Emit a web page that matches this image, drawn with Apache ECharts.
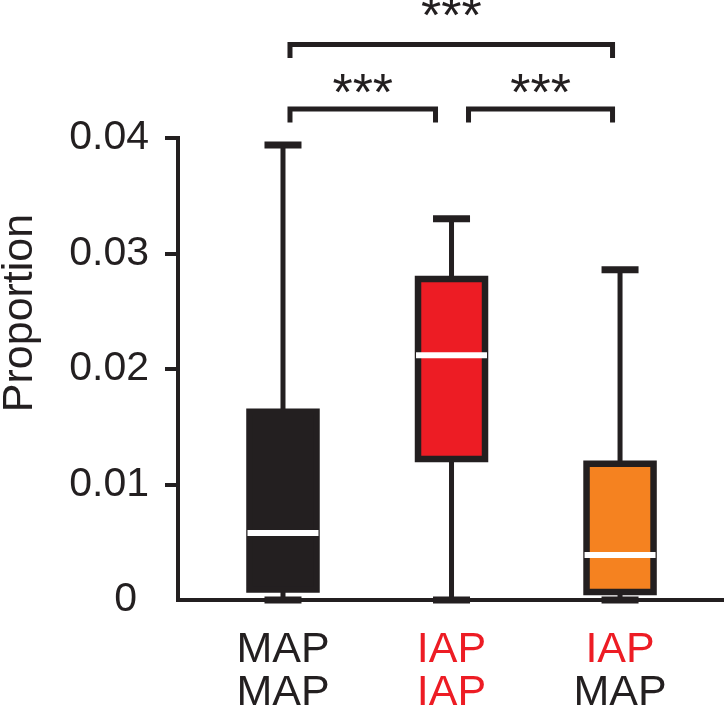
<!DOCTYPE html>
<html>
<head>
<meta charset="utf-8">
<script src="https://cdn.jsdelivr.net/npm/echarts@6/dist/echarts.min.js"></script>
<style>
  html, body { margin: 0; padding: 0; background: #fff; }
  #chart { width: 727px; height: 709px; }
</style>
</head>
<body>
<div id="chart"></div>
<script>
// two-line group labels under each box
const topRow = ["MAP", "IAP", "IAP"];
const bottomRow = ["MAP", "IAP", "MAP"];

// box plot stats per group
const whiskerLow = [0, 0, 0];
const q1 = [0.0009, 0.0122, 0.0007];
const median = [0.0058, 0.0212, 0.0039];
const q3 = [0.0163, 0.0278, 0.0118];
const whiskerHigh = [0.0394, 0.033, 0.0286];

const yTicks = [0, 0.01, 0.02, 0.03, 0.04];

// significance brackets (1-based group numbers)
const bracketFrom = [1, 2, 1];
const bracketTo = [2, 3, 3];
const bracketLevel = [0, 0, 1];
const bracketText = ["***", "***", "***"];

const ink = "#231f20";
const boxFill = [ink, "#ed1c24", "#f58220"];
const labelColor = { MAP: ink, IAP: "#ed1c24" };
const font = "Liberation Sans";

const chart = echarts.init(document.getElementById("chart"));

function renderBox(params, api) {
  const x = api.value(0);
  const pLow = api.coord([x, api.value(1)]);
  const pQ1 = api.coord([x, api.value(2)]);
  const pMed = api.coord([x, api.value(3)]);
  const pQ3 = api.coord([x, api.value(4)]);
  const pHigh = api.coord([x, api.value(5)]);
  const cx = pLow[0];
  const half = 33.5;
  const capHalf = 18.5;
  return {
    type: "group",
    children: [
      { type: "line", shape: { x1: cx, y1: pLow[1], x2: cx, y2: pHigh[1] },
        style: { stroke: ink, lineWidth: 5 } },
      { type: "line", shape: { x1: cx - capHalf, y1: pLow[1], x2: cx + capHalf, y2: pLow[1] },
        style: { stroke: ink, lineWidth: 7 } },
      { type: "line", shape: { x1: cx - capHalf, y1: pHigh[1], x2: cx + capHalf, y2: pHigh[1] },
        style: { stroke: ink, lineWidth: 7 } },
      { type: "rect", shape: { x: cx - half, y: pQ3[1], width: half * 2, height: pQ1[1] - pQ3[1] },
        style: { fill: boxFill[params.dataIndex], stroke: ink, lineWidth: 6.5 } },
      { type: "line", shape: { x1: cx - half - 2, y1: pMed[1], x2: cx + half + 2, y2: pMed[1] },
        style: { stroke: "#fff", lineWidth: 6 } }
    ]
  };
}

function renderBracket(params, api) {
  const from = api.value(0);
  const to = api.value(1);
  const level = api.value(2);
  const i = params.dataIndex;
  // an end shared with another bracket on the same level gets a wider gap
  const shares = (g) => bracketLevel.filter((lv, j) => j !== i && lv === level &&
    (bracketFrom[j] === g || bracketTo[j] === g)).length > 0;
  const top = api.coord([from, 0.04])[1];
  const x1 = api.coord([from, 0])[0] + (shares(from) ? 17 : 7);
  const x2 = api.coord([to, 0])[0] - (shares(to) ? 16 : 7.5);
  const barY = top - 29 - level * 64.5;
  const legY = barY + 13.5;
  return {
    type: "group",
    children: [
      { type: "polyline", shape: { points: [[x1, legY], [x1, barY], [x2, barY], [x2, legY]] },
        style: { stroke: ink, lineWidth: 5, fill: null, lineJoin: "miter" } },
      { type: "text", x: (x1 + x2) / 2, y: barY - 13 - level * 12.5,
        style: { text: bracketText[i], fill: ink, font: "52px '" + font + "'",
          textAlign: "center", textVerticalAlign: "middle" } }
    ]
  };
}

const option = {
  animation: false,
  grid: { left: 178, right: 5, top: 138, bottom: 109, containLabel: false, outerBoundsMode: "none" },
  xAxis: {
    type: "value",
    min: 0.377,
    max: 3.605,
    splitLine: { show: false },
    axisTick: { show: false },
    axisLine: { lineStyle: { color: ink, width: 4, cap: "square" } },
    axisLabel: {
      customValues: [1, 2, 3],
      margin: 29,
      formatter: (v) => {
        const i = Math.round(v) - 1;
        return "{" + topRow[i] + "|" + topRow[i] + "}\n{" + bottomRow[i] + "|" + bottomRow[i] + "}";
      },
      rich: {
        MAP: { color: labelColor.MAP, fontSize: 43, lineHeight: 43, fontFamily: font },
        IAP: { color: labelColor.IAP, fontSize: 43, lineHeight: 43, fontFamily: font }
      }
    }
  },
  yAxis: {
    type: "value",
    min: 0,
    max: 0.04,
    interval: 0.01,
    name: "Proportion",
    nameLocation: "middle",
    nameRotate: 90,
    nameGap: 136,
    nameTextStyle: { color: ink, fontSize: 43, fontFamily: font, padding: [0, 0, 0, 112] },
    splitLine: { show: false },
    axisLine: { show: true, lineStyle: { color: ink, width: 4, cap: "square" } },
    axisTick: {
      show: true,
      length: 13,
      customValues: yTicks.filter((v) => v > 0),
      lineStyle: { color: ink, width: 4 }
    },
    axisLabel: {
      customValues: yTicks,
      margin: 29,
      color: ink,
      fontSize: 41,
      fontFamily: font,
      formatter: (v) => (v === 0 ? "{z|0}" : v.toFixed(2)),
      rich: { z: { color: ink, fontSize: 41, fontFamily: font, padding: [0, 12, 0, 0] } }
    }
  },
  series: [
    {
      type: "custom",
      renderItem: renderBox,
      clip: false,
      encode: { x: 0, y: [1, 2, 3, 4, 5] },
      data: topRow.map((_, i) => [i + 1, whiskerLow[i], q1[i], median[i], q3[i], whiskerHigh[i]])
    },
    {
      type: "custom",
      renderItem: renderBracket,
      clip: false,
      encode: { x: [0, 1] },
      data: bracketFrom.map((f, i) => [f, bracketTo[i], bracketLevel[i]])
    }
  ]
};

chart.setOption(option);
</script>
</body>
</html>
